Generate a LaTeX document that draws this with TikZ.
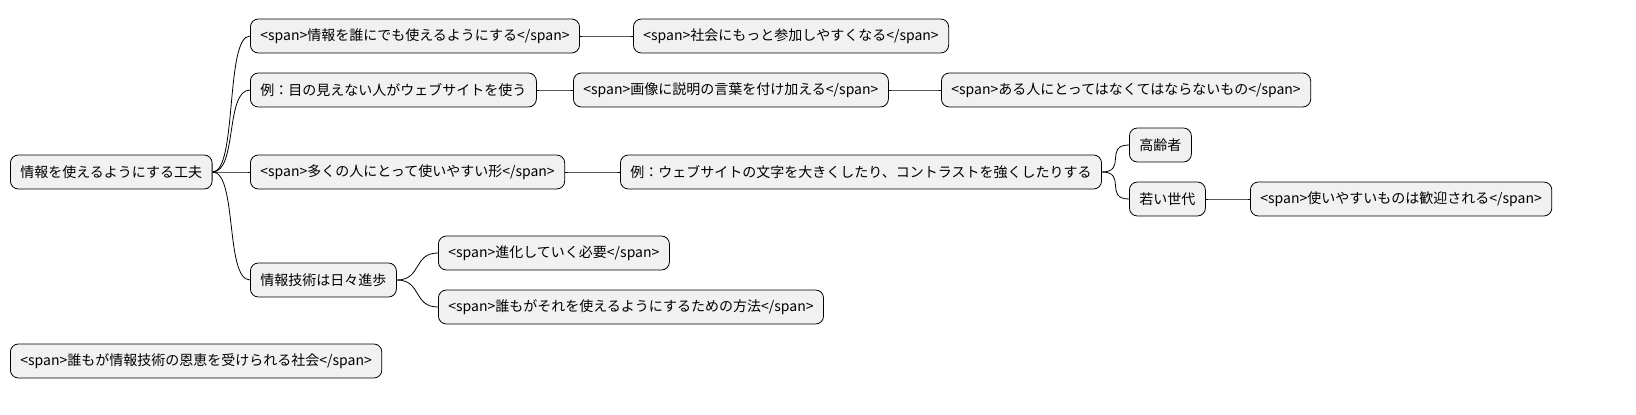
\documentclass[tikz,border=0pt]{standalone}
\usepackage{fontspec}
\setmainfont{Noto Sans CJK JP}
\begin{document}
\begin{tikzpicture}[x=1pt,y=-1pt,
  box/.style={draw=black,line width=0.8pt,fill={rgb,255:red,241;green,241;blue,241},rounded corners=8pt,
    minimum height=34pt,inner xsep=10pt,anchor=west,font=\fontsize{14}{16}\selectfont},
  link/.style={line width=0.8pt}]
\useasboundingbox (0,0) rectangle (1636,415);
\node[box] (r) at (10,172) {情報を使えるようにする工夫};
\node[box] (n1) at (250,36) {<span>情報を誰にでも使えるようにする</span>};
\node[box] (n1a) at (633,36) {<span>社会にもっと参加しやすくなる</span>};
\node[box] (n2) at (250,90) {例：目の見えない人がウェブサイトを使う};
\node[box] (n2a) at (573,90) {<span>画像に説明の言葉を付け加える</span>};
\node[box] (n2b) at (941,90) {<span>ある人にとってはなくてはならないもの</span>};
\node[box] (n3) at (250,172) {<span>多くの人にとって使いやすい形</span>};
\node[box] (n3a) at (620,172) {例：ウェブサイトの文字を大きくしたり、コントラストを強くしたりする};
\node[box] (n3a1) at (1129,145) {高齢者};
\node[box] (n3a2) at (1129,199) {若い世代};
\node[box] (n3a2a) at (1250,199) {<span>使いやすいものは歓迎される</span>};
\node[box] (n4) at (250,280) {情報技術は日々進歩};
\node[box] (n4a) at (438,253) {<span>進化していく必要</span>};
\node[box] (n4b) at (438,307) {<span>誰もがそれを使えるようにするための方法</span>};
\node[box] (fl) at (10,361) {<span>誰もが情報技術の恩恵を受けられる社会</span>};
\foreach \a/\b in {r/n1,r/n2,r/n3,r/n4,n1/n1a,n2/n2a,n2a/n2b,n3/n3a,n3a/n3a1,n3a/n3a2,n3a2/n3a2a,n4/n4a,n4/n4b}
  \draw[link] (\a.east) .. controls +(25,0) and +(-25,0) .. (\b.west);
\end{tikzpicture}
\end{document}
